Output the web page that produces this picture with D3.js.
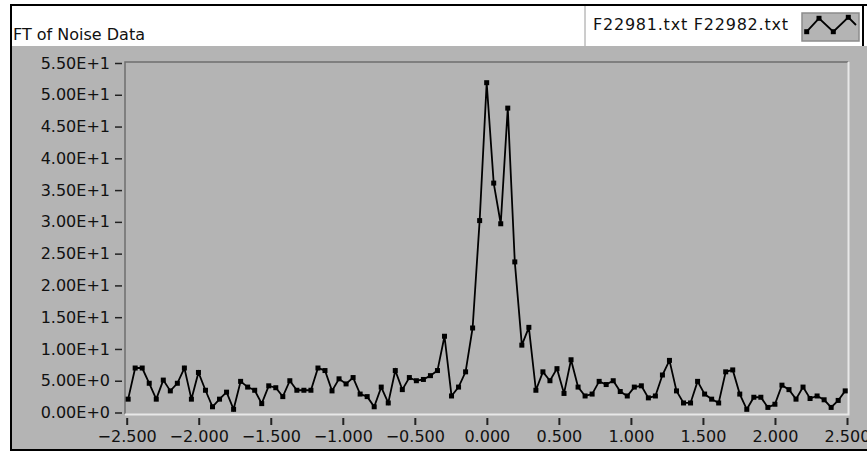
<!DOCTYPE html>
<html>
<head>
<meta charset="utf-8">
<script src="https://cdn.jsdelivr.net/npm/d3@7"></script>
<style>
  body { margin: 0; background: #fff; }
  text { font-family: "DejaVu Sans", sans-serif; fill: #111; }
</style>
</head>
<body>
<div id="chart"></div>
<script>
// FT magnitude samples, evenly spaced from fStart with step fStep
var fStart = -2.49, fStep = 0.0488;
var magnitude = [
  2.1, 7.0, 7.0, 4.6, 2.1, 5.1, 3.4, 4.6, 7.0, 2.1,
  6.3, 3.5, 0.9, 2.1, 3.2, 0.5, 4.9, 4.0, 3.5, 1.4,
  4.2, 3.9, 2.5, 5.0, 3.5, 3.5, 3.5, 7.0, 6.6, 3.4,
  5.3, 4.5, 5.5, 2.9, 2.5, 0.9, 4.0, 1.5, 6.6, 3.6,
  5.5, 5.0, 5.2, 5.8, 6.6, 12.0, 2.6, 4.0, 6.4, 13.3,
  30.2, 51.9, 36.1, 29.7, 47.9, 23.7, 10.6, 13.4, 3.5, 6.4,
  5.0, 6.9, 3.0, 8.3, 4.0, 2.6, 2.9, 4.9, 4.4, 5.0,
  3.3, 2.6, 4.0, 4.2, 2.3, 2.6, 5.9, 8.2, 3.4, 1.5,
  1.5, 4.9, 2.9, 2.1, 1.5, 6.4, 6.7, 2.9, 0.5, 2.4,
  2.4, 0.8, 1.3, 4.3, 3.6, 2.1, 4.0, 2.2, 2.6, 2.0,
  0.8, 1.9, 3.4
];
var xTicks = [-2.5, -2.0, -1.5, -1.0, -0.5, 0.0, 0.5, 1.0, 1.5, 2.0, 2.5];
var yTicks = [0, 5, 10, 15, 20, 25, 30, 35, 40, 45, 50, 55];
var title = "FT of Noise Data";
var legendLabel = "F22981.txt F22982.txt";

var width = 867, height = 455;
var grey = "#b4b4b4";

var svg = d3.select("#chart").append("svg")
    .attr("width", width)
    .attr("height", height)
    .style("display", "block");

// outer panel
svg.append("rect").attr("x", 0).attr("y", 0).attr("width", width).attr("height", height).attr("fill", "#fff");
svg.append("rect").attr("x", 12).attr("y", 46).attr("width", width - 12).attr("height", 403).attr("fill", grey);
svg.append("line").attr("x1", 11).attr("x2", 11).attr("y1", 4).attr("y2", 451).attr("stroke", "#000").attr("stroke-width", 2);
svg.append("line").attr("x1", 10).attr("x2", width).attr("y1", 5).attr("y2", 5).attr("stroke", "#000").attr("stroke-width", 2);
svg.append("line").attr("x1", 10).attr("x2", width).attr("y1", 450).attr("y2", 450).attr("stroke", "#000").attr("stroke-width", 2);

svg.append("text")
    .attr("x", 13).attr("y", 39.5)
    .style("font-size", "16px")
    .text(title);

// legend
var lg = svg.append("g");
lg.append("line").attr("x1", 585).attr("x2", 585).attr("y1", 6).attr("y2", 46).attr("stroke", "#9a9a9a").attr("stroke-width", 1);
lg.append("line").attr("x1", 863).attr("x2", 863).attr("y1", 6).attr("y2", 46).attr("stroke", "#000").attr("stroke-width", 2);
lg.append("text")
    .attr("x", 593).attr("y", 30)
    .style("font-size", "16px")
    .attr("textLength", 195)
    .attr("lengthAdjust", "spacing")
    .text(legendLabel);
lg.append("rect").attr("x", 802).attr("y", 13).attr("width", 57).attr("height", 28)
    .attr("fill", grey).attr("stroke", "#8c8c8c").attr("stroke-width", 1.5);
var iconPts = [[806.7, 31.7], [819, 18.3], [833.3, 31.7], [848.3, 17.3], [856, 25]];
lg.append("path").attr("d", d3.line()(iconPts)).attr("fill", "none").attr("stroke", "#000").attr("stroke-width", 1.8);
lg.selectAll(".imk").data(iconPts.slice(0, 4)).enter().append("rect")
    .attr("x", function(d) { return d[0] - 2.5; })
    .attr("y", function(d) { return d[1] - 2.5; })
    .attr("width", 5).attr("height", 5).attr("fill", "#000");

// scales
var x = d3.scaleLinear().domain([-2.5, 2.5]).range([126.7, 847]);
var y = d3.scaleLinear().domain([0, 55]).range([412.5, 63]);

// plot frame (3d inset look)
svg.append("path").attr("d", "M125,414V62H848").attr("fill", "none").attr("stroke", "#6e6e6e").attr("stroke-width", 1.5);
svg.append("path").attr("d", "M125,414.5H848.5V62").attr("fill", "none").attr("stroke", "#e8e8e8").attr("stroke-width", 2);

var fmt = function(v) {
    if (v === 0) return "0.00E+0";
    var e = Math.floor(Math.log10(v) + 1e-9);
    return (v / Math.pow(10, e)).toFixed(2) + "E+" + e;
};

var yAxis = svg.append("g")
    .attr("transform", "translate(122,0)")
    .call(d3.axisLeft(y).tickValues(yTicks).tickSize(7).tickPadding(5).tickFormat(fmt));
yAxis.select(".domain").remove();
yAxis.selectAll("line").attr("stroke", "#222").attr("stroke-width", 1.5);
yAxis.selectAll("text").style("font-size", "16px").attr("fill", "#111").style("font-family", "DejaVu Sans");

var xAxis = svg.append("g")
    .attr("transform", "translate(0,418)")
    .call(d3.axisBottom(x).tickValues(xTicks).tickSize(7).tickPadding(6).tickFormat(d3.format(".3f")));
xAxis.select(".domain").remove();
xAxis.selectAll("line").attr("stroke", "#222").attr("stroke-width", 2);
xAxis.selectAll("text").style("font-size", "16px").attr("fill", "#111").style("font-family", "DejaVu Sans");

// data
var pts = magnitude.map(function(v, i) { return { f: fStart + i * fStep, v: v }; });
var line = d3.line()
    .x(function(d) { return x(d.f); })
    .y(function(d) { return y(d.v); });

svg.append("path")
    .datum(pts)
    .attr("d", line)
    .attr("fill", "none")
    .attr("stroke", "#000")
    .attr("stroke-width", 1.8);

svg.selectAll(".mk")
    .data(pts)
    .enter().append("rect")
    .attr("class", "mk")
    .attr("x", function(d) { return x(d.f) - 2.5; })
    .attr("y", function(d) { return y(d.v) - 2.5; })
    .attr("width", 5)
    .attr("height", 5)
    .attr("fill", "#000");
</script>
</body>
</html>
